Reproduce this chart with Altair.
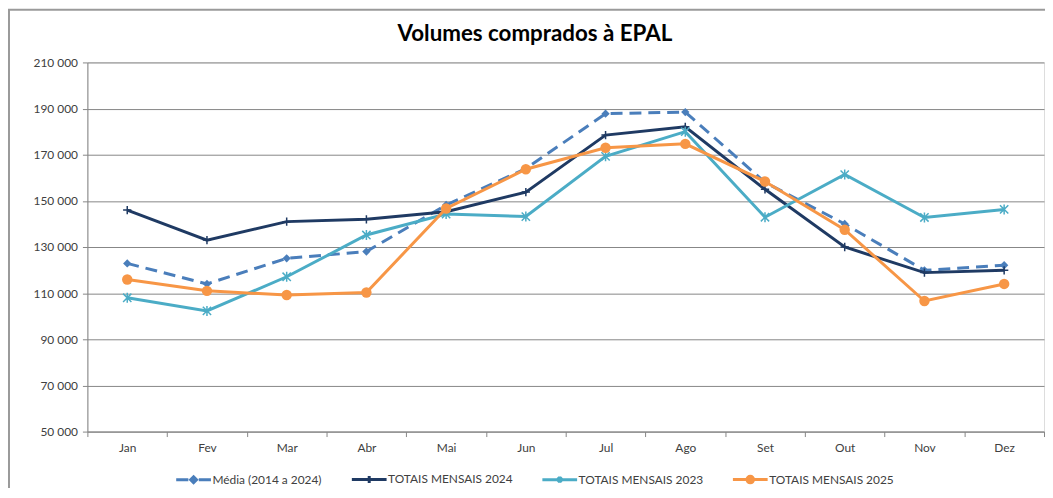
import altair as alt
import pandas as pd

months = ["Jan", "Fev", "Mar", "Abr", "Mai", "Jun", "Jul", "Ago", "Set", "Out", "Nov", "Dez"]
series_names = ["Média (2014 a 2024)", "TOTAIS MENSAIS 2024", "TOTAIS MENSAIS 2023", "TOTAIS MENSAIS 2025"]
media = [122900, 114000, 125100, 128000, 148200, 164000, 187800, 188500, 158000, 140000, 119900, 122100]
tot2024 = [146000, 133000, 141000, 142000, 145300, 153800, 178500, 182100, 155000, 130000, 118900, 119900]
tot2023 = [108000, 102300, 117100, 135200, 144300, 143200, 169300, 180000, 142900, 161400, 142800, 146300]
tot2025 = [115900, 111000, 109200, 110300, 146700, 163700, 173000, 174700, 158400, 137500, 106600, 114000]
y_ticks = [50000, 70000, 90000, 110000, 130000, 150000, 170000, 190000, 210000]

colors = ["#4A7EBB", "#1F3A63", "#4BACC6", "#F79646"]
series_values = [media, tot2024, tot2023, tot2025]

rows = []
for name, vals in zip(series_names, series_values):
    for m, v in zip(months, vals):
        rows.append({"mes": m, "serie": name, "valor": v})
df = pd.DataFrame(rows)

W, H = 964, 372
FONT = "Lato"

x_enc = alt.X(
    "mes:O",
    sort=months,
    scale=alt.Scale(type="band", domain=months, paddingInner=0, paddingOuter=0),
    axis=alt.Axis(
        title=None, tickBand="extent", tickSize=5, tickColor="#868686",
        domainColor="#868686", labelFontSize=12, labelColor="#404040",
        labelPadding=6, labelFont=FONT, labelAngle=0, grid=False,
    ),
)
y_enc = alt.Y(
    "valor:Q",
    scale=alt.Scale(domain=[50000, 210000], nice=False, zero=False),
    axis=alt.Axis(
        title=None, values=y_ticks, tickSize=5, tickColor="#868686",
        domainColor="#868686", gridColor="#868686", gridWidth=1, grid=True,
        labelFontSize=12, labelColor="#404040", labelPadding=5, labelFont=FONT,
        labelExpr="replace(format(datum.value, ','), regexp(',', 'g'), ' ')",
    ),
)

legend_paths = [
    "M-1,0H-0.3M0.3,0H1M0,-0.17L0.17,0L0,0.17L-0.17,0Z",
    "M-1,0H1M0,-0.2V0.2",
    "M-1,0H1M-0.13,-0.13L0.13,0.13M-0.13,0.13L0.13,-0.13M0,-0.18V0.18",
    "M-1,0H1M-0.19,0A0.19,0.19 0 1,0 0.19,0A0.19,0.19 0 1,0 -0.19,0Z",
]

point_shapes = [
    "diamond",
    "M-1,0H1M0,-1V1",
    "M-1,-1L1,1M-1,1L1,-1M0,-1.2V1.2",
    "circle",
]
point_sizes = [70, 70, 70, 110]
point_filled = [True, False, False, True]

layers = []
frame = alt.Chart(alt.Data(values=[{"k": 1}])).mark_rect(
    fillOpacity=0, stroke="#9a9a9a", strokeWidth=2
).encode(
    x=alt.value(-79), x2=alt.value(W + 40), y=alt.value(-53), y2=alt.value(H + 120)
)
layers.append(frame)

base = alt.Chart(df)
for i, name in enumerate(series_names):
    sub = base.transform_filter(alt.datum.serie == name)
    line_kwargs = dict(strokeWidth=3, color=colors[i])
    if i == 0:
        line_kwargs["strokeDash"] = [12, 7]
    line = sub.mark_line(**line_kwargs).encode(x=x_enc, y=y_enc)
    if point_filled[i]:
        pt = sub.mark_point(shape=point_shapes[i], size=point_sizes[i], filled=True,
                            opacity=1, color=colors[i])
    else:
        pt = sub.mark_point(shape=point_shapes[i], size=point_sizes[i], filled=False,
                            strokeWidth=1.5, opacity=1, color=colors[i])
    pts = pt.encode(x=x_enc, y=y_enc)
    layers += [line, pts]

leg = alt.Legend(
    title=None, orient="none", direction="horizontal",
    legendX=88, legendY=401, columnPadding=23, labelOffset=0,
    labelFontSize=12, labelFont=FONT, labelColor="#404040",
    symbolSize=1225, symbolStrokeWidth=3, symbolOpacity=1,
)
legend_layer = base.transform_filter(alt.datum.mes == "Jan").mark_point(
    filled=True, opacity=0
).encode(
    x=x_enc, y=y_enc,
    fill=alt.Fill("serie:N", scale=alt.Scale(domain=series_names, range=colors), legend=leg),
    stroke=alt.Stroke("serie:N", scale=alt.Scale(domain=series_names, range=colors), legend=leg),
    shape=alt.Shape("serie:N", scale=alt.Scale(domain=series_names, range=legend_paths), legend=leg),
)
layers.append(legend_layer)

chart = alt.layer(*layers).properties(
    width=W, height=H,
    title=alt.TitleParams(
        "Volumes comprados à EPAL", font=FONT, fontSize=22.5, fontWeight="bold",
        color="#000000", anchor="middle", dx=-31, offset=0, dy=37,
    ),
    autosize=alt.AutoSizeParams(type="none"),
    padding={"left": 80, "top": 53, "right": 1, "bottom": 55},
).configure_view(stroke=None).configure(background="white")

chart.save("out.html", embed_options={"renderer": "svg", "actions": False})
